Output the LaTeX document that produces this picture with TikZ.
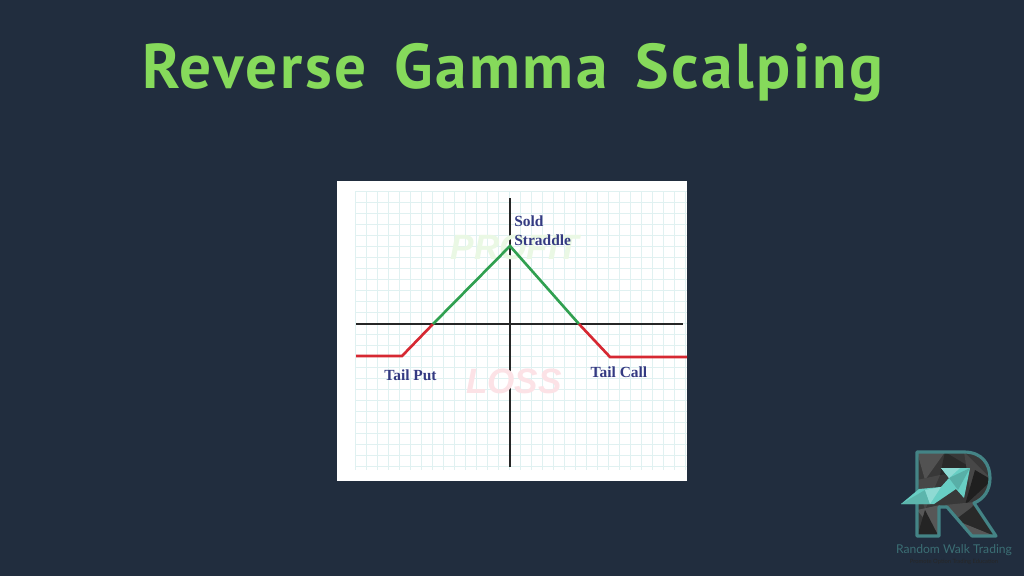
\documentclass[tikz,border=0pt]{standalone}
\usepackage{fontspec}
\setmainfont{Liberation Serif}
\setsansfont{Liberation Sans}
\newfontfamily\titlefont[LetterSpace=4,WordSpace=1.5]{PT Sans}
\newfontfamily\brandfont{Lato}
\usetikzlibrary{positioning}
\definecolor{slidebg}{RGB}{33,45,62}
\definecolor{titlegreen}{RGB}{134,218,91}
\definecolor{labelblue}{RGB}{52,58,130}
\definecolor{payoffgreen}{RGB}{48,160,80}
\definecolor{payoffred}{RGB}{214,40,50}
\definecolor{gridcolor}{RGB}{224,241,241}
\definecolor{logoteal}{RGB}{68,132,134}
\definecolor{arrowteal}{RGB}{104,206,196}
\tikzset{axis/.style={black!85,line width=1.1pt}}
\tikzset{gain/.style={payoffgreen,line width=1.5pt}}
\tikzset{tail/.style={payoffred,line width=1.5pt}}
\tikzset{gridline/.style={gridcolor,line width=0.42pt}}
\tikzset{tag/.style={labelblue,font=\fontsize{8.8}{10.2}\selectfont\bfseries,inner sep=0pt,align=left}}
\tikzset{ghost/.style={font=\sffamily\fontsize{20}{20}\selectfont\bfseries\itshape,inner sep=0pt}}
\newcommand{\Rpath}{(917,452) -- (964,452) .. controls (982,452) and (990,464) .. (990,478)
    .. controls (990,490) and (984,499) .. (974,503) -- (996,536) -- (972,536) -- (947,507)
    -- (939,507) -- (939,536) -- (917,536) -- cycle}
\begin{document}
\begin{tikzpicture}[x=0.02cm,y=-0.02cm]
  \fill[slidebg] (0,0) rectangle (1024,576);
  \useasboundingbox (0,0) rectangle (1024,576);

  % Title
  \node[titlegreen,font=\titlefont\fontsize{36}{38}\selectfont\bfseries,inner sep=0pt] (title) at (513,73) {Reverse Gamma Scalping};

  % Chart sheet
  \fill[white] (337,181) rectangle (687,481);
  \foreach \x in {0,...,30}
    \draw[gridline] ({355+11*\x},191) -- ({355+11*\x},470);
  \foreach \y in {0,...,25}
    \draw[gridline] (355,{191+11*\y}) -- (687,{191+11*\y});

  % Axes
  \coordinate (top) at (510,198);
  \coordinate (bottom) at (510,467);
  \coordinate (west) at (356,324);
  \coordinate (east) at (683,324);
  \draw[axis] (top) -- (bottom);
  \draw[axis] (west) -- (east);

  \node[ghost,text={rgb,255:red,234;green,248;blue,228}] (profit) at (515,247) {PROFIT};
  \node[ghost,text={rgb,255:red,252;green,226;blue,230}] (loss) at (514,381) {LOSS};

  % Payoff
  \coordinate (a) at (356,356);
  \coordinate (b) at (402,356);
  \coordinate (c) at (433,324);
  \coordinate (d) at (510,246);
  \coordinate (e) at (579,324);
  \coordinate (f) at (610,357);
  \coordinate (g) at (687,357);
  \draw[tail] (a) -- (b) -- (c);
  \draw[gain] (c) -- (d) -- (e);
  \draw[tail] (e) -- (f) -- (g);

  % Labels
  \node[tag,anchor=north west] (straddle) at (514,215) {Sold\\[0.6pt]Straddle};
  \node[tag] (put) at (410.5,375) {Tail Put};
  \node[tag] (call) at (619,372) {Tail Call};

  % Logo
  \begin{scope}
    \clip \Rpath;
    \fill[black!78] (910,445) rectangle (1000,540);
    \foreach \ax/\ay/\bx/\by/\cx/\cy/\g in {
      917/452/945/452/925/480/68, 945/452/975/470/940/475/84, 964/452/992/480/970/490/72,
      975/470/992/480/965/505/88, 917/480/940/475/925/510/72, 917/510/940/505/939/537/66,
      917/537/925/510/939/537/86, 945/505/975/502/960/525/70, 955/520/975/505/997/537/84,
      955/520/997/537/965/537/66}
      \fill[black!\g] (\ax,\ay) -- (\bx,\by) -- (\cx,\cy) -- cycle;
  \end{scope}
  \draw[logoteal,line width=1.8pt,line join=round] \Rpath;
  \begin{scope}
    \clip (901,504) -- (919,489) -- (941,487) -- (949,478) -- (941,468) -- (970,468)
      -- (964,498) -- (956,489) -- (934,504) -- cycle;
    \fill[arrowteal] (895,460) rectangle (975,510);
    \fill[arrowteal!88!black] (901,504) -- (925,490) -- (930,504) -- cycle;
    \fill[arrowteal!75!white] (925,490) -- (941,487) -- (930,504) -- cycle;
    \fill[arrowteal!85!black] (949,478) -- (970,468) -- (958,490) -- cycle;
    \fill[arrowteal!75!white] (941,468) -- (960,468) -- (949,478) -- cycle;
  \end{scope}
  \node[logoteal!75!slidebg,font=\brandfont\fontsize{6.9}{8}\selectfont,inner sep=0pt] (brand) at (954,550) {Random Walk Trading};
  \node[black!85,font=\brandfont\fontsize{3.3}{4}\selectfont,inner sep=0pt,below=1.5pt of brand] (motto) {Promote Option Trading Education};
\end{tikzpicture}
\end{document}
